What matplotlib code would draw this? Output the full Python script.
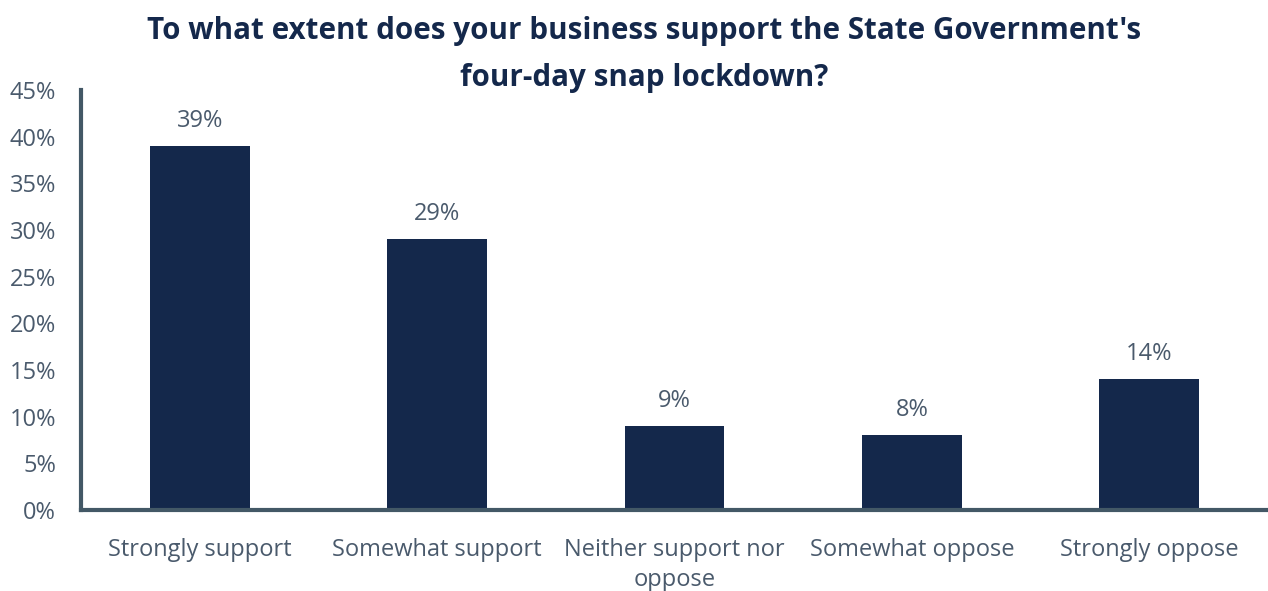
import matplotlib.pyplot as plt

categories = ["Strongly support", "Somewhat support", "Neither support nor\noppose",
              "Somewhat oppose", "Strongly oppose"]
values = [39, 29, 9, 8, 14]
yticks = [0, 5, 10, 15, 20, 25, 30, 35, 40, 45]

plt.rcParams['font.family'] = ['Open Sans', 'DejaVu Sans']

text_col = '#4a5a6c'
bar_col = '#14284b'
spine_col = '#435866'

fig = plt.figure(figsize=(12.68, 5.91), dpi=100)
ax = fig.add_axes([0.0639, 0.137, 0.9361, 0.7107])

x = range(len(categories))
ax.bar(x, values, width=0.42, color=bar_col)
for i, v in enumerate(values):
    ax.text(i, v + 1.4, f"{v}%", ha='center', va='bottom', fontsize=17, color=text_col)

ax.set_xlim(-0.5, len(categories) - 0.5)
ax.set_ylim(0, 45)
ax.set_yticks(yticks)
ax.set_yticklabels([f"{t}%" for t in yticks], fontsize=17, color=text_col)
ax.set_xticks(list(x))
ax.set_xticklabels(categories, fontsize=17, color=text_col, linespacing=1.35)
ax.tick_params(length=0)
ax.tick_params(axis='x', pad=20)
ax.tick_params(axis='y', pad=18)

for s in ['top', 'right']:
    ax.spines[s].set_visible(False)
for s in ['left', 'bottom']:
    ax.spines[s].set_color(spine_col)
    ax.spines[s].set_linewidth(3)

fig.text(0.508, 0.973, "To what extent does your business support the State Government's\nfour-day snap lockdown?",
         ha='center', va='top', fontsize=21.3, fontweight='bold', color=bar_col,
         linespacing=1.72)

fig.savefig("out.png", dpi=100)
